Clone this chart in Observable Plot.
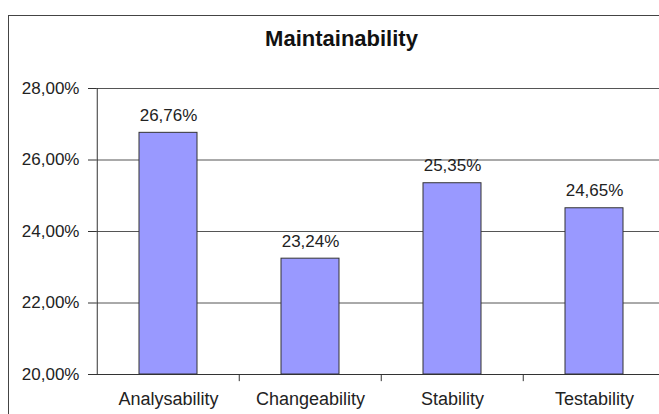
<!DOCTYPE html>
<html>
<head>
<meta charset="utf-8">
<script src="https://cdn.jsdelivr.net/npm/d3@7"></script>
<script src="https://cdn.jsdelivr.net/npm/@observablehq/plot@0.6"></script>
<style>
  html, body { margin: 0; padding: 0; background: #fff; }
  #wrap { position: relative; width: 659px; height: 414px; overflow: hidden; }
  #frame { position: absolute; left: 8px; top: 15px; width: 660px; height: 420px; border: 1px solid #444; box-sizing: border-box; pointer-events: none; }
  svg { font-family: "Liberation Sans", Arial, sans-serif; }
</style>
</head>
<body>
<div id="wrap"><div id="frame"></div></div>
<script>
const categories = ["Analysability", "Changeability", "Stability", "Testability"];
const values = [26.76, 23.24, 25.35, 24.65];
const yTicks = [20, 22, 24, 26, 28];
const title = "Maintainability";

const data = categories.map((c, i) => ({category: c, value: values[i]}));
const fmt = d => d.toFixed(2).replace(".", ",") + "%";

const width = 659, height = 414, marginLeft = 96, marginRight = -7;
const step = (width - marginLeft - marginRight) / categories.length;
const frameCenter = (marginLeft + width - marginRight) / 2;

const chart = Plot.plot({
  width, height,
  marginLeft, marginRight,
  marginTop: 88, marginBottom: 40,
  style: {fontFamily: "'Liberation Sans', Arial, sans-serif", fontSize: "17px", color: "#222", background: "transparent", overflow: "hidden"},
  x: {domain: categories, paddingInner: 0.593, paddingOuter: 0.2965, label: null},
  y: {domain: [20, 28], ticks: yTicks, tickFormat: fmt, label: null},
  marks: [
    Plot.gridY(yTicks, {stroke: "#555", strokeOpacity: 1}),
    Plot.barY(data, {x: "category", y1: 20, y2: "value", fill: "#9999ff", stroke: "#333", strokeWidth: 1}),
    Plot.text(data, {x: "category", y: "value", text: d => fmt(d.value), lineAnchor: "bottom", dy: -12, fontSize: 17, fill: "#222"}),
    Plot.ruleY([20], {stroke: "#333"}),
    Plot.ruleX(categories.slice(1), {x: d => d, dx: -step / 2, y1: 20, y2: 19.8, stroke: "#333"}),
    Plot.ruleX([categories[0]], {x: d => d, dx: -step / 2, y1: 20, y2: 28, stroke: "#333"}),
    Plot.axisY({ticks: yTicks, tickFormat: fmt, tickSize: 8, tickPadding: 9, fontSize: 17, stroke: "#333"}),
    Plot.axisX({tickSize: 0, tickPadding: 18, fontSize: 18, label: null}),
    Plot.text([title], {frameAnchor: "top", lineAnchor: "middle", dy: -50, dx: 341 - frameCenter, fontSize: 22, fontWeight: "bold", fill: "#111"})
  ]
});
document.getElementById("wrap").prepend(chart);
</script>
</body>
</html>
